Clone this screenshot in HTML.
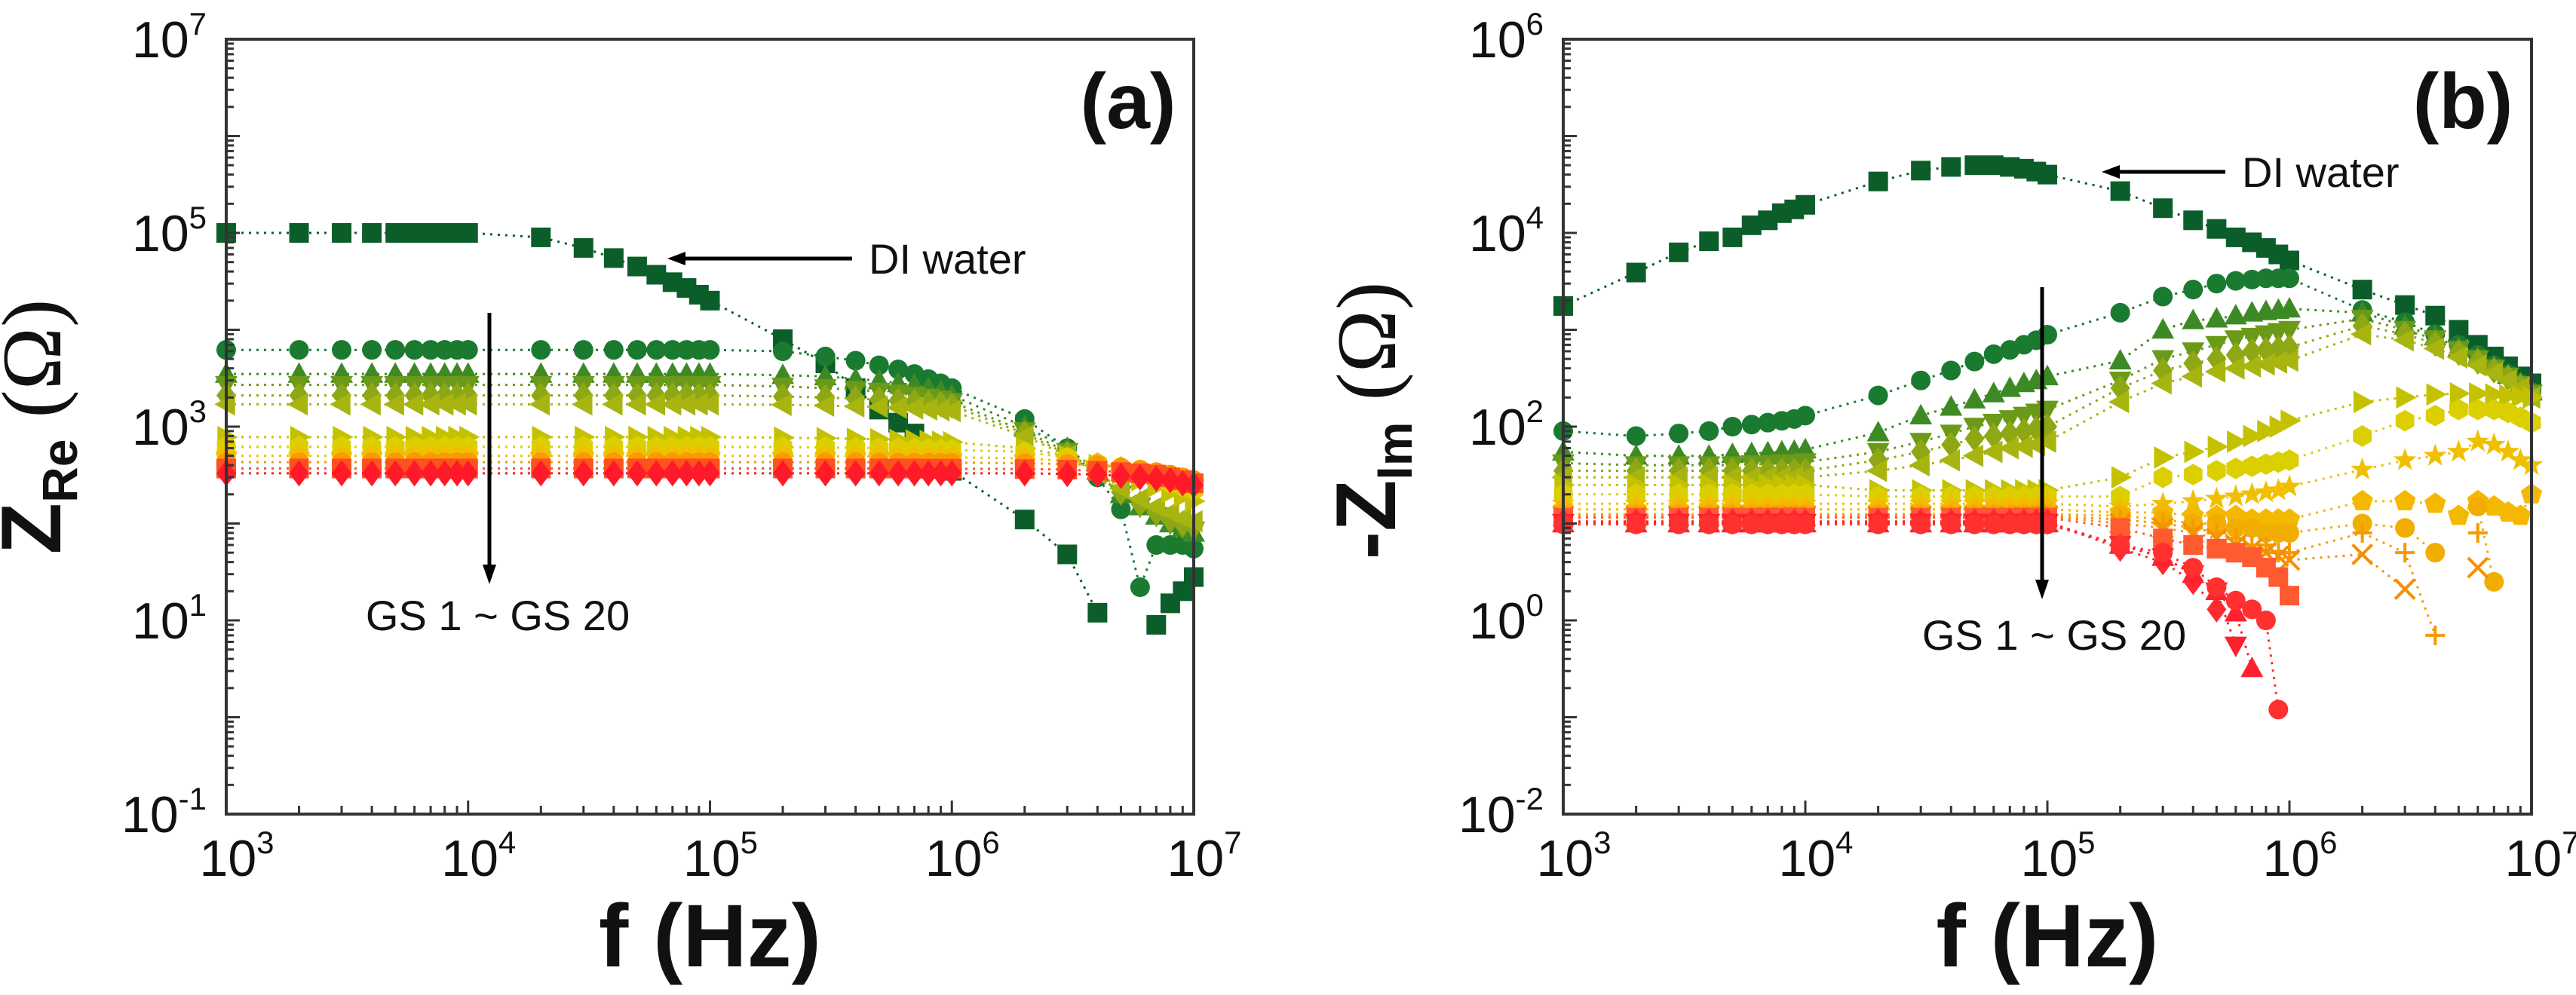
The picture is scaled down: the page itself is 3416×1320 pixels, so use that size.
<!DOCTYPE html>
<html><head><meta charset="utf-8"><style>
html,body{margin:0;padding:0;background:#fff;}
svg{display:block;}
text{font-family:"Liberation Sans",Arial,sans-serif;}
</style></head><body>
<svg id="fig" width="3416" height="1320" viewBox="0 0 3416 1320" xmlns="http://www.w3.org/2000/svg">
<rect width="3416" height="1320" fill="#fff"/>
<g id="pa"></g>
<g id="pb"></g>
</svg>
<script>
const freqs=[1e3,2e3,3e3,4e3,5e3,6e3,7e3,8e3,9e3,1e4,2e4,3e4,4e4,5e4,6e4,7e4,8e4,9e4,1e5,2e5,3e5,4e5,5e5,6e5,7e5,8e5,9e5,1e6,2e6,3e6,4e6,5e6,6e6,7e6,8e6,9e6,1e7];
const xTickExps=[3,4,5,6,7];
const aTickExps=[-1,1,3,5,7];
const bTickExps=[-2,0,2,4,6];
// Panel (a) Z_Re series
const aDI=[1e5,1e5,1e5,1e5,1e5,1e5,1e5,1e5,1e5,1e5,9e4,7e4,5.5e4,4.5e4,3.7e4,3.1e4,2.7e4,2.3e4,2e4,8000,4500,2500,1500,1100,850,600,450,350,110,48,12,null,null,9,15,20,28];
const aGS1=[6200,6200,6200,6200,6200,6200,6200,6200,6200,6200,6200,6200,6200,6200,6200,6200,6200,6200,6200,6000,5300,4800,4300,3900,3500,3100,2800,2500,1200,600,300,140,22,60,60,60,55];
const aGS2=[3500,3500,3500,3500,3500,3500,3500,3500,3500,3500,3500,3500,3500,3500,3500,3500,3500,3500,3500,3400,3300,3100,3000,2800,2700,2500,2300,2100,1000,600,350,200,150,120,100,90,80];
const aGS3=[2700,2700,2700,2700,2700,2700,2700,2700,2700,2700,2700,2700,2700,2700,2700,2700,2700,2700,2700,2600,2500,2400,2300,2200,2100,2000,1900,1800,900,550,330,200,150,120,100,90,85];
const aGS4=[2100,2100,2100,2100,2100,2100,2100,2100,2100,2100,2100,2100,2100,2100,2100,2100,2100,2100,2100,2050,2000,1950,1900,1850,1800,1750,1700,1650,850,520,320,210,160,130,110,100,95];
const aGS5=[1700,1700,1700,1700,1700,1700,1700,1700,1700,1700,1700,1700,1700,1700,1700,1700,1700,1700,1700,1680,1650,1620,1600,1570,1540,1510,1480,1450,800,500,330,230,180,150,130,115,105];
const aGS6=[780,780,780,780,780,780,780,780,780,780,780,780,780,780,780,780,780,780,780,770,760,750,740,730,720,710,700,690,600,500,400,330,280,240,210,190,170];
const aGS7=[620,620,620,620,620,620,620,620,620,620,620,620,620,620,620,620,620,620,620,615,610,605,600,595,590,585,580,575,550,480,420,370,320,290,260,240,220];
const aGS8=[500,500,500,500,500,500,500,500,500,500,500,500,500,500,500,500,500,500,500,498,496,494,492,490,488,486,484,482,470,440,410,380,350,320,300,280,260];
const aGS9=[430,430,430,430,430,430,430,430,430,430,430,430,430,430,430,430,430,430,430,430,430,430,428,428,426,426,424,424,420,410,400,380,360,340,320,300,280];
const aGS10=[370,370,370,370,370,370,370,370,370,370,370,370,370,370,370,370,370,370,370,370,370,370,370,370,370,368,368,368,365,360,350,340,330,320,300,280,260];
const aGS11=[330,330,330,330,330,330,330,330,330,330,330,330,330,330,330,330,330,330,330,330,330,330,330,330,330,330,330,330,330,325,320,310,300,290,280,260,250];
// Panel (b) -Z_Im series
const bDI=[1760,3900,6300,8200,9000,12000,13500,16000,17500,19500,34000,44000,48000,50000,50000,48000,46000,43000,40000,27000,18000,13500,11000,9000,8000,7000,6000,5200,2600,1800,1400,1000,700,530,420,330,280];
const bGS1=[90,80,85,90,100,105,110,115,120,130,210,300,380,470,560,620,700,780,890,1500,2200,2600,3000,3200,3300,3400,3400,3400,1600,1200,900,700,550,430,350,280,230];
const bGS2=[55,50,50,50,52,53,54,55,56,58,87,130,160,190,220,250,280,300,330,480,1000,1250,1300,1400,1500,1550,1600,1650,1500,1100,850,650,520,420,340,280,230];
const bGS3=[42,40,40,40,40,41,41,42,42,43,55,70,85,100,110,120,130,140,150,300,500,600,700,800,850,900,950,1000,1300,1000,800,620,500,400,330,270,220];
const bGS4=[35,35,35,35,35,35,35,35,35,35,45,55,65,75,80,85,90,95,100,250,380,450,500,550,600,620,640,660,1100,900,720,580,470,380,320,260,210];
const bGS5=[30,30,30,30,30,30,30,30,30,30,35,40,45,50,55,60,62,65,70,180,280,330,370,400,420,440,460,480,900,780,640,520,430,360,300,250,200];
const bGS6=[25,25,25,25,25,25,25,25,25,25,22,22,22,22,22,22,22,22,22,30,48,55,62,70,80,90,100,115,180,200,215,220,220,215,210,205,200];
const bGS7=[20,20,20,20,20,20,20,20,20,20,19,19,19,19,19,19,19,19,19,19,30,32,35,37,39,41,43,45,80,115,130,150,150,150,140,125,110];
const bGS8=[16,16,16,16,16,16,16,16,16,16,16,16,16,16,16,16,16,16,16,15,16,17,18,19,20,21,22,24,36,45,50,55,70,65,55,45,40];
const bGS9=[14,14,14,14,14,14,14,14,14,14,14,14,14,14,14,14,14,14,14,13,13,12,12,12,11,11,11,11,17,17,16,12,17,15,13,12,20];
const bGS10=[12.5,12.5,12.5,12.5,12.5,12.5,12.5,12.5,12.5,12.5,12.5,12.5,12.5,12.5,12.5,12.5,12.5,12.5,12.5,12,11,10,10,9,9,8,8,8,10,9,5,null,15,2.5,null,null,null];
const bGS11=[12,12,12,12,12,12,12,12,12,12,12,12,12,12,12,12,12,12,12,11,10,9,8,7,6,6,5,5,8,5,0.7,null,8,null,null,null,null];
const bGS12=[11.8,11.8,11.8,11.8,11.8,11.8,11.8,11.8,11.8,11.8,11.8,11.8,11.8,11.8,11.8,11.8,11.8,11.8,11.8,10,9,8,7,6,5.5,5,4.6,4.2,4.8,2.1,null,null,3.5,null,null,null,null];
const bGS13=[11.5,11.5,11.5,11.5,11.5,11.5,11.5,11.5,11.5,11.5,11.5,11.5,11.5,11.5,11.5,11.5,11.5,11.5,11.5,9,7,6,5.5,5,4.5,3.5,2.8,1.8,null,null,null,null,null,null,null,null,null];
const bGS14=[10.5,10.5,10.5,10.5,10.5,10.5,10.5,10.5,10.5,10.5,10.5,10.5,10.5,10.5,10.5,10.5,10.5,10.5,10.5,5.5,4,2.5,1.3,null,null,null,null,null,null,null,null,null,null,null,null,null,null];
const bGS15=[10.2,10.2,10.2,10.2,10.2,10.2,10.2,10.2,10.2,10.2,10.2,10.2,10.2,10.2,10.2,10.2,10.2,10.2,10.2,6,4.5,3,2,0.55,null,null,null,null,null,null,null,null,null,null,null,null,null];
const bGS16=[10,10,10,10,10,10,10,10,10,10,10,10,10,10,10,10,10,10,10,6,4.5,3,2,1.2,0.32,null,null,null,null,null,null,null,null,null,null,null,null];
const bGS17=[9.8,9.8,9.8,9.8,9.8,9.8,9.8,9.8,9.8,9.8,9.8,9.8,9.8,9.8,9.8,9.8,9.8,9.8,9.8,6,5,3.5,2.2,1.6,1.3,1.0,0.12,null,null,null,null,null,null,null,null,null,null];

const NS="http://www.w3.org/2000/svg";
function el(tag,attrs,parent){const e=document.createElementNS(NS,tag);for(const k in attrs)e.setAttribute(k,attrs[k]);parent.appendChild(e);return e;}

function marker(g,type,x,y,c){
  const s=13;let e;
  const poly=(pts)=>el('polygon',{points:pts.map(p=>(x+p[0])+','+(y+p[1])).join(' '),fill:c},g);
  if(type==='sq')e=el('rect',{x:x-s,y:y-s,width:2*s,height:2*s,fill:c},g);
  else if(type==='ci')e=el('circle',{cx:x,cy:y,r:s,fill:c},g);
  else if(type==='tu')e=poly([[0,-s*1.2],[s*1.15,s*0.9],[-s*1.15,s*0.9]]);
  else if(type==='td')e=poly([[0,s*1.2],[s*1.15,-s*0.9],[-s*1.15,-s*0.9]]);
  else if(type==='di')e=poly([[0,-s*1.35],[s*1.0,0],[0,s*1.35],[-s*1.0,0]]);
  else if(type==='tl')e=poly([[-s*1.2,0],[s*0.9,-s*1.15],[s*0.9,s*1.15]]);
  else if(type==='tr')e=poly([[s*1.2,0],[-s*0.9,-s*1.15],[-s*0.9,s*1.15]]);
  else if(type==='hx'){const p=[];for(let i=0;i<6;i++){const a=Math.PI/6+i*Math.PI/3;p.push([s*1.1*Math.cos(a),s*1.1*Math.sin(a)]);}e=poly(p);}
  else if(type==='pe'){const p=[];for(let i=0;i<5;i++){const a=-Math.PI/2+i*2*Math.PI/5;p.push([s*1.15*Math.cos(a),s*1.15*Math.sin(a)]);}e=poly(p);}
  else if(type==='st'){const p=[];for(let i=0;i<10;i++){const a=-Math.PI/2+i*Math.PI/5;const r=i%2?s*0.5:s*1.25;p.push([r*Math.cos(a),r*Math.sin(a)]);}e=poly(p);}
  else if(type==='pl'){e=el('path',{d:`M${x-s} ${y}H${x+s}M${x} ${y-s}V${y+s}`,stroke:c,'stroke-width':4,fill:'none'},g);}
  else if(type==='xx'){e=el('path',{d:`M${x-s} ${y-s}L${x+s} ${y+s}M${x-s} ${y+s}L${x+s} ${y-s}`,stroke:c,'stroke-width':4,fill:'none'},g);}
  
  
}

function panel(gid,P,series,tickExps,ytitleMain,ytitleSub,ytx,yty,label,lx,ann){
  const g=document.getElementById(gid);
  const lx0=Math.log10(1e3),lx1=Math.log10(1e7);
  const xs=f=>P.x0+(Math.log10(f)-lx0)/(lx1-lx0)*(P.x1-P.x0);
  const ys=v=>P.y1-(Math.log10(v)-P.ymin)/(P.ymax-P.ymin)*(P.y1-P.y0);
  // series
  series.forEach(S=>{
    const sg=el('g',{},g);
    
    
    let d='';let pen=false;
    S.v.forEach((v,i)=>{if(v==null){pen=false;return;}const x=xs(freqs[i]),y=ys(v);d+=(pen?'L':'M')+x.toFixed(1)+' '+y.toFixed(1);pen=true;});
    const ln=el('path',{d:d,fill:'none',stroke:S.c,'stroke-width':3,'stroke-dasharray':'3 7'},sg);
    
    
    S.v.forEach((v,i)=>{if(v==null)return;marker(sg,S.m,xs(freqs[i]),ys(v),S.c);});
  });
  // frame
  const fr=el('rect',{x:P.x0,y:P.y0,width:P.x1-P.x0,height:P.y1-P.y0,fill:'none',stroke:'#333','stroke-width':4},g);
  
  
  // x ticks
  const xa=el('g',{},g);
  
  
  for(let e=3;e<7;e++)for(let k=1;k<10;k++){const x=xs(k*Math.pow(10,e));el('line',{x1:x,x2:x,y1:P.y1,y2:P.y1-(k===1?18:11),stroke:'#333','stroke-width':3},xa);}
  xTickExps.forEach(e=>{const x=xs(Math.pow(10,e));
    const t=el('text',{x:x+14,y:P.y1+82,'font-size':68,'text-anchor':'middle',fill:'#111'},xa);
    
    
    t.innerHTML='10<tspan dy="-30" font-size="42">'+e+'</tspan>';});
  // y ticks
  const ya=el('g',{},g);
  
  
  for(let e=P.ymin;e<P.ymax;e++)for(let k=1;k<10;k++){const y=ys(k*Math.pow(10,e));el('line',{x1:P.x0,x2:P.x0+(k===1?18:10),y1:y,y2:y,stroke:'#333','stroke-width':3},ya);}
  tickExps.forEach(e=>{const y=ys(Math.pow(10,e));
    const t=el('text',{x:P.x0-26,y:y+24,'font-size':68,'text-anchor':'end',fill:'#111'},ya);
    
    
    t.innerHTML='10<tspan dy="-30" font-size="42">'+e+'</tspan>';});
  // titles
  const xt=el('text',{x:(P.x0+P.x1)/2,y:1282,'font-size':118,'font-weight':'bold','text-anchor':'middle',fill:'#111'},g);
  
  
  xt.textContent='f (Hz)';
  const yt=el('text',{x:0,y:0,'font-size':112,'font-weight':'bold','text-anchor':'middle',fill:'#111',transform:`translate(${ytx},${yty}) rotate(-90)`},g);
  
  
  yt.innerHTML=ytitleMain+'<tspan font-size="66" dy="22">'+ytitleSub+'</tspan><tspan dy="-22" font-weight="normal" font-family="Liberation Serif, serif"> (Ω)</tspan>';
  const pl=el('text',{x:lx,y:170,'font-size':104,'font-weight':'bold','text-anchor':'middle',fill:'#111'},g);
  
  
  pl.textContent=label;
  // annotations
  const ag=el('g',{},g);
  
  
  el('line',{x1:ann.dx1,x2:ann.dx0+20,y1:ann.dy,y2:ann.dy,stroke:'#000','stroke-width':5},ag);
  el('polygon',{points:`${ann.dx0},${ann.dy} ${ann.dx0+24},${ann.dy-9} ${ann.dx0+24},${ann.dy+9}`,fill:'#000'},ag);
  const dt=el('text',{x:ann.dx1+22,y:ann.dy+20,'font-size':56,fill:'#111'},ag);
  
  
  dt.textContent='DI water';
  el('line',{x1:ann.vx,x2:ann.vx,y1:ann.vy0,y2:ann.vy1-20,stroke:'#000','stroke-width':5},ag);
  el('polygon',{points:`${ann.vx},${ann.vy1} ${ann.vx-9},${ann.vy1-26} ${ann.vx+9},${ann.vy1-26}`,fill:'#000'},ag);
  const gt=el('text',{x:ann.gx,y:ann.gy,'font-size':56,'text-anchor':'middle',fill:'#111'},ag);
  
  
  gt.textContent='GS 1 ~ GS 20';
}

const PA={x0:300,x1:1583,y0:52,y1:1080,ymin:-1,ymax:7};
const PB={x0:2073,x1:3357,y0:52,y1:1080,ymin:-2,ymax:6};
panel('pa',PA,[
 {name:'di-water',v:aDI,m:'sq',c:'#0b5e2a'},
 {name:'gs1',v:aGS1,m:'ci',c:'#1a7a30'},
 {name:'gs2',v:aGS2,m:'tu',c:'#3d8a25'},
 {name:'gs3',v:aGS3,m:'td',c:'#6a9a18'},
 {name:'gs4',v:aGS4,m:'di',c:'#8ea815'},
 {name:'gs5',v:aGS5,m:'tl',c:'#a8b510'},
 {name:'gs6',v:aGS6,m:'tr',c:'#c4c200'},
 {name:'gs7',v:aGS7,m:'hx',c:'#dccf00'},
 {name:'gs8',v:aGS8,m:'pe',c:'#f0c000'},
 {name:'gs9',v:aGS9,m:'ci',c:'#f89a00'},
 {name:'gs10',v:aGS10,m:'sq',c:'#ff5020'},
 {name:'gs11',v:aGS11,m:'di',c:'#ff1a2a'}
],aTickExps,'Z','Re',80,566,'(a)',1496,
 {dx0:885,dx1:1130,dy:343,vx:649,vy0:415,vy1:775,gx:660,gy:836});
panel('pb',PB,[
 {name:'di-water',v:bDI,m:'sq',c:'#0b5e2a'},
 {name:'gs1',v:bGS1,m:'ci',c:'#1a7a30'},
 {name:'gs2',v:bGS2,m:'tu',c:'#3d8a25'},
 {name:'gs3',v:bGS3,m:'td',c:'#6a9a18'},
 {name:'gs4',v:bGS4,m:'di',c:'#8ea815'},
 {name:'gs5',v:bGS5,m:'tl',c:'#a8b510'},
 {name:'gs6',v:bGS6,m:'tr',c:'#c4c200'},
 {name:'gs7',v:bGS7,m:'hx',c:'#dccf00'},
 {name:'gs8',v:bGS8,m:'st',c:'#f0c000'},
 {name:'gs9',v:bGS9,m:'pe',c:'#f5b800'},
 {name:'gs10',v:bGS10,m:'ci',c:'#f2ae00'},
 {name:'gs11',v:bGS11,m:'pl',c:'#f59a00'},
 {name:'gs12',v:bGS12,m:'xx',c:'#f59000'},
 {name:'gs13',v:bGS13,m:'sq',c:'#ff5a30'},
 {name:'gs14',v:bGS14,m:'di',c:'#ff2a30'},
 {name:'gs15',v:bGS15,m:'td',c:'#ff2030'},
 {name:'gs16',v:bGS16,m:'tu',c:'#ff2030'},
 {name:'gs17',v:bGS17,m:'ci',c:'#ff3030'}
],bTickExps,'-Z','Im',1850,558,'(b)',3266,
 {dx0:2787,dx1:2951,dy:228,vx:2708,vy0:381,vy1:795,gx:2724,gy:862});
</script>
</body></html>
